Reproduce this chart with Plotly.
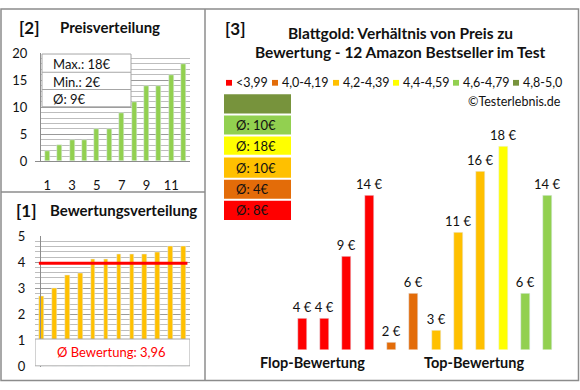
import plotly.graph_objects as go

W, H = 580, 390
def X(px): return px / W
def Y(py): return 1 - py / H

# ---------------- data ----------------
ranks = list(range(1, 13))
prices_sorted = [2, 3, 4, 4, 6, 6, 9, 11, 14, 14, 16, 18]
ratings_sorted = [2.7, 3.0, 3.5, 3.6, 4.1, 4.1, 4.3, 4.3, 4.3, 4.4, 4.6, 4.6]
avg_rating = 3.96
price_stats = ["Max.: 18€", "Min.: 2€", "Ø: 9€"]

bar_prices = [4, 4, 9, 14, 2, 6, 3, 11, 16, 18, 6, 14]
bar_groups = [0, 0, 0, 0, 1, 1, 2, 2, 2, 3, 4, 4]

group_colors = ["#FF0000", "#E36C09", "#FFC000", "#FFFF00", "#92D050", "#77933C"]
group_labels = ["<3,99", "4,0-4,19", "4,2-4,39", "4,4-4,59", "4,6-4,79", "4,8-5,0"]
group_avgs = ["Ø: 8€", "Ø: 4€", "Ø: 10€", "Ø: 18€", "Ø: 10€", ""]

FONT = "Lato"
GRID_MAJ = "#9A9A9A"
GRID_MIN = "#BDBDBD"
BORDER = "#8C8C8C"
TXT = "#111111"

fig = go.Figure()

# Panel [2] price distribution
fig.add_trace(go.Bar(x=ranks, y=prices_sorted, marker_color="#92D050", width=0.4,
                     xaxis="x", yaxis="y", showlegend=False))
# Panel [1] rating distribution
fig.add_trace(go.Bar(x=ranks, y=ratings_sorted, marker_color="#FFC000", width=0.36,
                     xaxis="x2", yaxis="y2", showlegend=False))
# Panel [3] price vs rating
fig.add_trace(go.Bar(x=ranks, y=bar_prices,
                     marker_color=[group_colors[g] for g in bar_groups], width=0.4,
                     text=[f"{p} €" for p in bar_prices], textposition="outside",
                     constraintext="none",
                     textfont=dict(family=FONT, size=13, color=TXT),
                     cliponaxis=False, xaxis="x3", yaxis="y3", showlegend=False))

shapes = []
annotations = []

# borders
shapes.append(dict(type="rect", xref="paper", yref="paper", x0=X(1), x1=X(578.5), y0=Y(388.5), y1=Y(1),
                   line=dict(color=BORDER, width=1.5)))
shapes.append(dict(type="line", xref="paper", yref="paper", x0=X(205), x1=X(205), y0=Y(388.5), y1=Y(1),
                   line=dict(color=BORDER, width=1.5)))
shapes.append(dict(type="line", xref="paper", yref="paper", x0=X(1), x1=X(205), y0=Y(192), y1=Y(192),
                   line=dict(color=BORDER, width=1.5)))

# panel [2] info box
bx0, bx1, by0, by1 = X(42), X(131), Y(103), Y(48)
shapes.append(dict(type="rect", xref="paper", yref="paper", x0=bx0, x1=bx1, y0=by0, y1=by1,
                   fillcolor="white", line=dict(color="#A6A6A6", width=1), layer="above"))
for yy in (67, 85):
    shapes.append(dict(type="line", xref="paper", yref="paper", x0=bx0, x1=bx1, y0=Y(yy), y1=Y(yy),
                       line=dict(color="#A6A6A6", width=1), layer="above"))
for txt, yy in zip(price_stats, (58, 77, 95)):
    annotations.append(dict(text=txt, x=X(51), y=Y(yy), xanchor="left",
                            font=dict(family=FONT, size=13, color=TXT)))

# panel [1] average line and box
shapes.append(dict(type="line", xref="x2", yref="y2", x0=0.8, x1=12.3, y0=avg_rating, y1=avg_rating,
                   line=dict(color="#FF0000", width=3), layer="above"))
shapes.append(dict(type="rect", xref="x2", yref="y2", x0=0.5, x1=12.5, y0=0.03, y1=1.06,
                   fillcolor="white", line=dict(color="#A6A6A6", width=1), layer="above"))
annotations.append(dict(text="Ø Bewertung: 3,96", x=X(111), y=Y(359), xanchor="center",
                        font=dict(family=FONT, size=13, color="#FF0000")))

# titles
annotations += [
    dict(text="<b>[2]</b>", x=X(17), y=Y(20), xanchor="left", font=dict(family=FONT, size=17, color=TXT)),
    dict(text="<b>Preisverteilung</b>", x=X(58), y=Y(20), xanchor="left", font=dict(family=FONT, size=15, color=TXT)),
    dict(text="<b>[1]</b>", x=X(14), y=Y(211), xanchor="left", font=dict(family=FONT, size=17, color=TXT)),
    dict(text="<b>Bewertungsverteilung</b>", x=X(48), y=Y(211), xanchor="left", font=dict(family=FONT, size=15, color=TXT)),
    dict(text="<b>[3]</b>", x=X(223), y=Y(21), xanchor="left", font=dict(family=FONT, size=17, color=TXT)),
    dict(text="<b>Blattgold: Verhältnis von Preis zu</b>", x=X(400), y=Y(26), xanchor="center",
         font=dict(family=FONT, size=15.5, color=TXT)),
    dict(text="<b>Bewertung - 12 Amazon Bestseller im Test</b>", x=X(400), y=Y(46), xanchor="center",
         font=dict(family=FONT, size=15.5, color=TXT)),
    dict(text="©Testerlebnis.de", x=X(563), y=Y(98), xanchor="right", font=dict(family=FONT, size=12.5, color=TXT)),
    dict(text="<b>Flop-Bewertung</b>", x=X(312), y=Y(370), xanchor="center", font=dict(family=FONT, size=14.5, color=TXT)),
    dict(text="<b>Top-Bewertung</b>", x=X(474), y=Y(370), xanchor="center", font=dict(family=FONT, size=14.5, color=TXT)),
]

# legend row
sq_x = [226, 272, 333, 393, 453, 513]
for i, (c, lab) in enumerate(zip(group_colors, group_labels)):
    shapes.append(dict(type="rect", xref="paper", yref="paper", x0=X(sq_x[i]), x1=X(sq_x[i] + 6),
                       y0=Y(81), y1=Y(75), fillcolor=c, line=dict(width=0)))
    annotations.append(dict(text=lab, x=X(sq_x[i] + 8), y=Y(78), xanchor="left",
                            font=dict(family=FONT, size=12.5, color=TXT)))

# colour boxes with group averages
box_tops = [201, 179, 156, 134, 112, 90]
box_bots = [221, 199, 177, 153, 132, 110]
for c, avg, t, b in zip(group_colors, group_avgs, box_tops, box_bots):
    shapes.append(dict(type="rect", xref="paper", yref="paper", x0=X(224), x1=X(291), y0=Y(b), y1=Y(t),
                       fillcolor=c, line=dict(width=0)))
    if avg:
        annotations.append(dict(text=avg, x=X(234), y=Y((t + b) / 2), xanchor="left",
                                font=dict(family=FONT, size=13, color=TXT)))

for a in annotations:
    a.setdefault("xref", "paper")
    a.setdefault("yref", "paper")
    a.setdefault("showarrow", False)
    a.setdefault("yanchor", "middle")

tickfont = dict(family=FONT, size=13, color=TXT)
fig.update_layout(
    width=W, height=H, margin=dict(l=0, r=0, t=0, b=0),
    paper_bgcolor="white", plot_bgcolor="rgba(0,0,0,0)",
    bargap=0, shapes=shapes, annotations=annotations,
    xaxis=dict(domain=[X(41), X(190)], range=[0.5, 12.5], tickvals=[1, 3, 5, 7, 9, 11],
               showgrid=False, showline=True, linecolor="#8C8C8C", ticks="", tickfont=tickfont,
               ticklabelstandoff=12, zeroline=False),
    yaxis=dict(domain=[Y(160), Y(47)], range=[0, 20], dtick=5, showgrid=True, gridcolor=GRID_MAJ,
               minor=dict(dtick=1, showgrid=True, gridcolor=GRID_MIN), showline=True, linecolor="#8C8C8C",
               tickfont=tickfont, ticklabelstandoff=10, zeroline=False, ticks=""),
    xaxis2=dict(domain=[X(35), X(190)], range=[0.5, 12.5], showticklabels=False, showgrid=False,
                showline=True, linecolor="#8C8C8C", zeroline=False),
    yaxis2=dict(domain=[Y(374), Y(238)], range=[0, 5], dtick=1, showgrid=True, gridcolor=GRID_MAJ,
                minor=dict(dtick=0.2, showgrid=True, gridcolor=GRID_MIN), showline=True, linecolor="#8C8C8C",
                tickfont=tickfont, ticklabelstandoff=12, zeroline=False, ticks=""),
    xaxis3=dict(domain=[X(291), X(559)], range=[0.5, 12.5], visible=False),
    yaxis3=dict(domain=[Y(356), Y(119.5)], range=[1.45, 20], visible=False),
)

fig.write_html("out.html", config={"displayModeBar": False},
               post_script="document.body.style.margin='0';document.body.style.overflow='hidden';")
